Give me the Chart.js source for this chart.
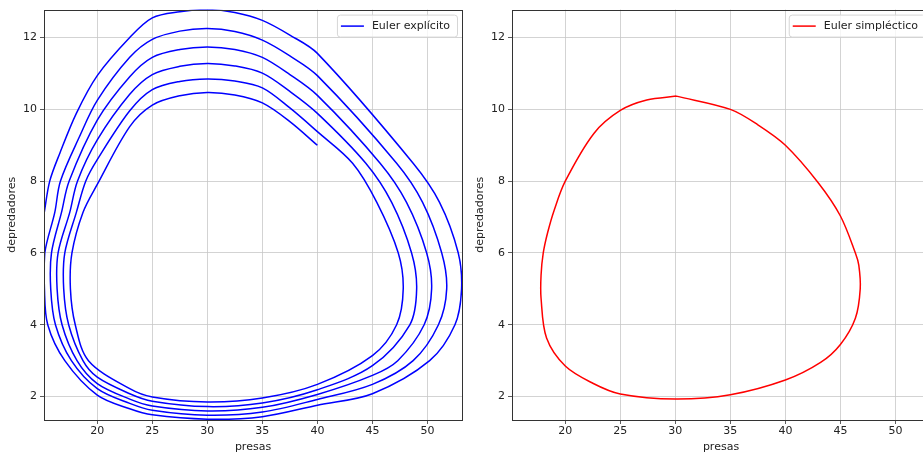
<!DOCTYPE html>
<html>
<head>
<meta charset="utf-8">
<script src="https://cdn.jsdelivr.net/npm/chart.js@4"></script>
<style>
  html, body { margin: 0; padding: 0; background: #fff; }
  body { width: 923px; height: 456px; overflow: hidden; position: relative; }
  .panel { position: absolute; top: 0; }
</style>
</head>
<body>
<div class="panel" style="left:0px"><canvas id="left" width="470" height="456"></canvas></div>
<div class="panel" style="left:468px"><canvas id="right" width="470" height="456"></canvas></div>
<script>
// Euler explicito: spiral, starting at (40, 9)
const explicito_x = [
  40, 37.5, 35, 32.5, 30, 27.5, 25, 22.95, 20, 18.7, 17.7, 17.56, 18.0, 19.2, 22.95, 25, 30, 35, 40, 45, 47.2, 47.8, 47.35, 45.4, 43.2, 40,
  37.5, 35, 32.5, 30, 27.5, 25, 22.95, 20, 18.95, 18.1, 17.05, 16.95, 17.4, 18.7, 20, 22.95, 25, 30, 35, 40, 45, 48.4, 49.02, 48.56, 46.75, 44.4, 40,
  37.5, 35, 32.5, 30, 27.5, 25, 22.95, 20, 18.2, 17.5, 16.44, 16.35, 16.8, 18.16, 20, 22.95, 25, 30, 35, 40, 45, 47.3, 49.7, 50.38, 49.93, 48.1, 45.7, 40,
  37.5, 35, 32.5, 30, 27.5, 25, 22.95, 20, 17.44, 16.75, 15.84, 15.77, 16.2, 17.65, 20, 22.95, 25, 30, 35, 40, 45, 48.7, 51.0, 51.75, 51.3, 49.56, 47.2, 40,
  37.5, 35, 32.5, 30, 27.5, 25, 22.95, 20, 18.4, 16.65, 16.14, 15.23, 15.2, 15.5, 17.05, 20, 22.95, 25, 30, 35, 40, 45, 50.2, 52.5, 53.1, 52.8, 51.1, 48.7, 40,
  37.5, 35, 32.5, 30, 27.5, 25, 22.95, 20, 18.1, 16.6, 15.68, 15.17
];
const explicito_y = [
  9.0, 9.66, 10.18, 10.40, 10.47, 10.38, 10.12, 9.52, 7.91, 7.13, 6, 5, 4, 3, 2.22, 1.99, 1.85, 1.96, 2.34, 3.14, 4, 5, 6, 7.41, 8.5, 9.38,
  10.04, 10.60, 10.79, 10.85, 10.78, 10.55, 9.96, 8.6, 8, 7.13, 6, 5, 4, 3, 2.54, 2.08, 1.87, 1.72, 1.82, 2.19, 2.86, 4, 5, 6, 7.41, 8.5, 9.89,
  10.50, 11.01, 11.21, 11.28, 11.2, 10.97, 10.42, 9.15, 8, 7.13, 6, 5, 4, 3, 2.36, 1.93, 1.74, 1.60, 1.70, 2.06, 2.59, 3, 4, 5, 6, 7.41, 8.5, 10.39,
  10.97, 11.45, 11.67, 11.74, 11.67, 11.45, 10.91, 9.7, 8, 7.13, 6, 5, 4, 3, 2.22, 1.81, 1.62, 1.48, 1.57, 1.92, 2.34, 3, 4, 5, 6, 7.41, 8.5, 10.94,
  11.49, 11.93, 12.17, 12.25, 12.18, 11.95, 11.45, 10.25, 9.25, 8, 7.13, 6, 5, 4, 3, 2.04, 1.66, 1.49, 1.37, 1.44, 1.76, 2.08, 3, 4, 5, 6, 7.41, 8.5, 11.56,
  12.07, 12.48, 12.70, 12.78, 12.72, 12.55, 12.0, 10.94, 9.89, 8.78, 8, 7.1
];
// Euler simplectico: closed orbit
const simplectico_x = [30.1, 27.4, 25, 22.6, 20, 19.0, 18.4, 18.0, 17.8, 17.8, 18.3, 20, 22.5, 25, 30, 35, 40, 43.2, 45, 46.36, 46.8, 46.67, 46.36, 45, 43, 40, 37.5, 35, 30.1];
const simplectico_y = [10.37, 10.26, 9.97, 9.33, 8.0, 7.2, 6.57, 6.0, 5.38, 4.74, 3.63, 2.85, 2.37, 2.07, 1.93, 2.05, 2.46, 2.95, 3.45, 4.18, 5.0, 5.66, 6.0, 7.03, 7.95, 9.0, 9.57, 10.0, 10.37];

const x_ticks = [20, 25, 30, 35, 40, 45, 50];
const y_ticks = [2, 4, 6, 8, 10, 12];
const x_range = [15.16, 53.14];
const y_range = [1.347, 12.78];

const font_family = '"DejaVu Sans", sans-serif';
const text_color = '#222';

// frame round the plot area and a matplotlib-like legend box
const framePlugin = {
  id: 'frame',
  afterDraw(chart) {
    const {ctx, chartArea: a} = chart;
    const ds = chart.data.datasets[0];
    ctx.save();
    ctx.strokeStyle = '#333';
    ctx.lineWidth = 1;
    ctx.strokeRect(Math.round(a.left) + 0.5, Math.round(a.top) + 0.5, Math.round(a.right - a.left), Math.round(a.bottom - a.top));
    ctx.font = '11px ' + font_family;
    const tw = ctx.measureText(ds.label).width;
    const w = tw + 42, h = 22;
    const x = a.right - 5 - w, y = a.top + 5;
    ctx.beginPath();
    ctx.roundRect(x + 0.5, y + 0.5, w, h, 3);
    ctx.fillStyle = 'rgba(255,255,255,0.8)';
    ctx.fill();
    ctx.strokeStyle = '#d6d6d6';
    ctx.stroke();
    ctx.beginPath();
    ctx.moveTo(x + 4, y + h / 2 + 0.5);
    ctx.lineTo(x + 27, y + h / 2 + 0.5);
    ctx.strokeStyle = ds.borderColor;
    ctx.lineWidth = 1.5;
    ctx.stroke();
    ctx.fillStyle = text_color;
    ctx.textBaseline = 'middle';
    ctx.fillText(ds.label, x + 35, y + h / 2 + 1);
    ctx.restore();
  }
};

function makeChart(id, label, color, xs, ys) {
  const points = xs.map((v, i) => ({x: v, y: ys[i]}));
  return new Chart(document.getElementById(id), {
    type: 'line',
    data: {
      datasets: [{
        label: label,
        data: points,
        borderColor: color,
        borderWidth: 1.5,
        pointRadius: 0,
        tension: 0.33,
        fill: false
      }]
    },
    options: {
      responsive: false,
      animation: false,
      devicePixelRatio: 1,
      layout: { padding: { left: 0, right: 8, top: 5, bottom: 0 } },
      plugins: { legend: { display: false }, tooltip: { enabled: false } },
      scales: {
        x: {
          type: 'linear',
          min: x_range[0], max: x_range[1],
          afterBuildTicks: s => { s.ticks = x_ticks.map(v => ({value: v})); },
          afterFit: s => { s.height = 36; },
          grid: { color: '#c8c8c8', lineWidth: 0.8, tickLength: 4, tickColor: '#333' },
          border: { display: false },
          ticks: { color: text_color, font: { family: font_family, size: 11 }, padding: 1, maxRotation: 0 },
          title: { display: true, text: 'presas', color: text_color, font: { family: font_family, size: 11 }, padding: { top: 0, bottom: 2 } }
        },
        y: {
          type: 'linear',
          min: y_range[0], max: y_range[1],
          afterBuildTicks: s => { s.ticks = y_ticks.map(v => ({value: v})); },
          afterFit: s => { s.width = 44; },
          grid: { color: '#c8c8c8', lineWidth: 0.8, tickLength: 4, tickColor: '#333' },
          border: { display: false },
          ticks: { color: text_color, font: { family: font_family, size: 11 }, padding: 3 },
          title: { display: true, text: 'depredadores', color: text_color, font: { family: font_family, size: 11 }, padding: { top: 6, bottom: 0 } }
        }
      }
    },
    plugins: [framePlugin]
  });
}

makeChart('left', 'Euler explícito', '#0000ff', explicito_x, explicito_y);
makeChart('right', 'Euler simpléctico', '#ff0000', simplectico_x, simplectico_y);
</script>
</body>
</html>
